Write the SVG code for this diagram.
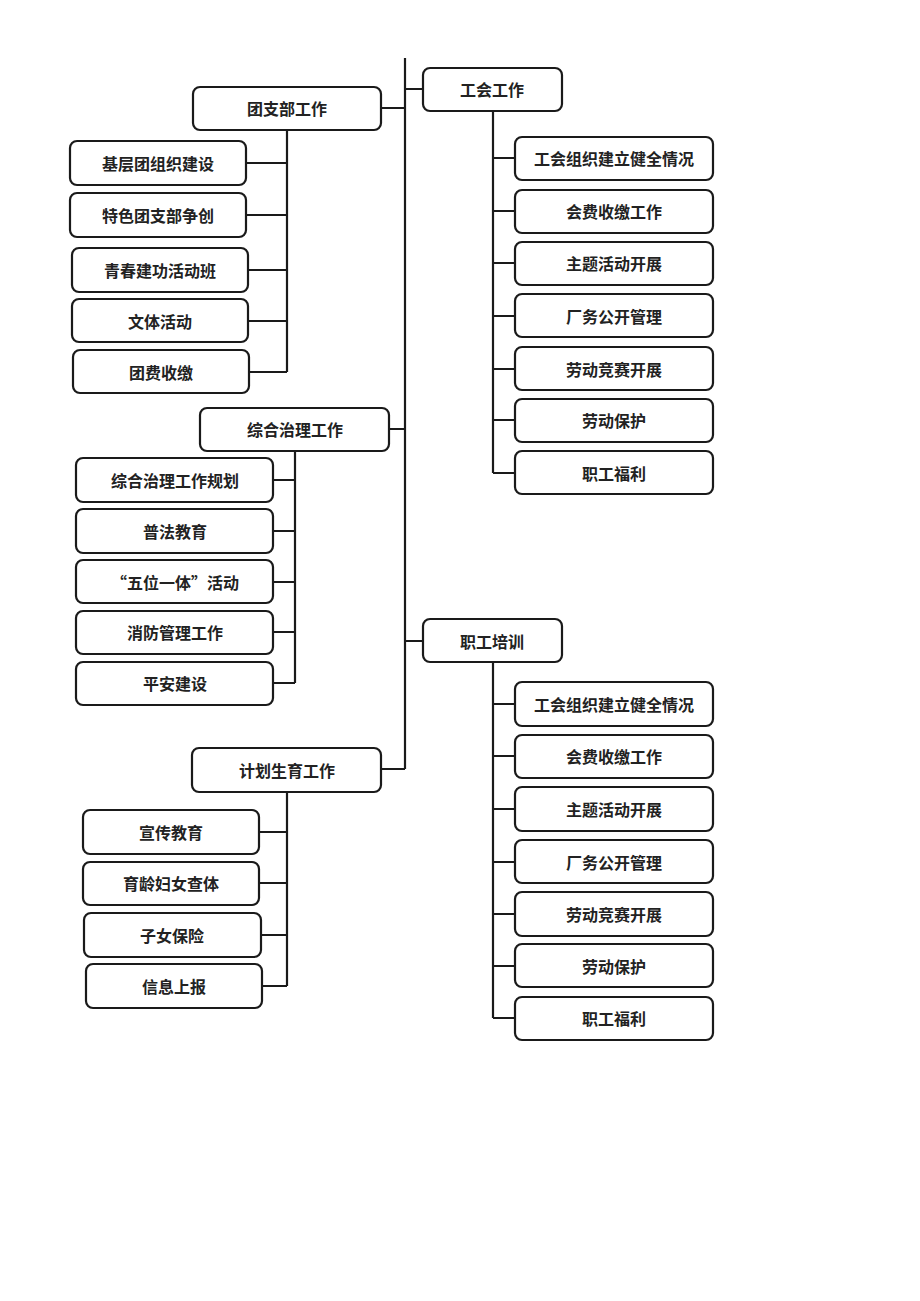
<svg xmlns="http://www.w3.org/2000/svg" width="920" height="1301" viewBox="0 0 920 1301">
<style>
.b{fill:#fff;stroke:#1a1a1a;stroke-width:2.2}
.t{font-family:"Noto Sans CJK SC","Noto Sans",sans-serif;font-size:16px;font-weight:bold;fill:#222;text-anchor:middle;dominant-baseline:central}
.c{fill:none;stroke:#1a1a1a;stroke-width:2.2}
</style>
<rect width="920" height="1301" fill="#fff"/>
<g id="connectors">
<path class="c" d="M405 58V769"/>
<path class="c" d="M405 89H423M381 108H405M389 429H405M405 641H423M381 769H405"/>
<path class="c" d="M287 130V372M246 163H287M246 215H287M248 270H287M248 321H287M249 372H287"/>
<path class="c" d="M493 111V473M493 158H515M493 211H515M493 263H515M493 316H515M493 369H515M493 420H515M493 473H515"/>
<path class="c" d="M295 451V683M273 480H295M273 531H295M273 582H295M273 632H295M273 683H295"/>
<path class="c" d="M493 662V1018M493 704H515M493 756H515M493 809H515M493 862H515M493 914H515M493 966H515M493 1018H515"/>
<path class="c" d="M287 792V986M259 832H287M259 883H287M261 935H287M262 986H287"/>
</g>
<g id="n-gonghui"><rect class="b" x="423" y="68" width="139" height="43" rx="7"/><text class="t" x="492" y="89">工会工作</text></g>
<g id="n-tuan"><rect class="b" x="193" y="87" width="188" height="43" rx="7"/><text class="t" x="287" y="108">团支部工作</text></g>
<g id="n-t1"><rect class="b" x="70" y="141" width="176" height="44" rx="7"/><text class="t" x="158" y="163">基层团组织建设</text></g>
<g id="n-t2"><rect class="b" x="70" y="193" width="176" height="44" rx="7"/><text class="t" x="158" y="215">特色团支部争创</text></g>
<g id="n-t3"><rect class="b" x="72" y="248" width="176" height="44" rx="7"/><text class="t" x="160" y="270">青春建功活动班</text></g>
<g id="n-t4"><rect class="b" x="72" y="299" width="176" height="43" rx="7"/><text class="t" x="160" y="321">文体活动</text></g>
<g id="n-t5"><rect class="b" x="73" y="350" width="176" height="43" rx="7"/><text class="t" x="161" y="372">团费收缴</text></g>
<g id="n-g1"><rect class="b" x="515" y="137" width="198" height="43" rx="7"/><text class="t" x="614" y="158">工会组织建立健全情况</text></g>
<g id="n-g2"><rect class="b" x="515" y="190" width="198" height="43" rx="7"/><text class="t" x="614" y="211">会费收缴工作</text></g>
<g id="n-g3"><rect class="b" x="515" y="242" width="198" height="43" rx="7"/><text class="t" x="614" y="263">主题活动开展</text></g>
<g id="n-g4"><rect class="b" x="515" y="294" width="198" height="43" rx="7"/><text class="t" x="614" y="316">厂务公开管理</text></g>
<g id="n-g5"><rect class="b" x="515" y="347" width="198" height="43" rx="7"/><text class="t" x="614" y="369">劳动竞赛开展</text></g>
<g id="n-g6"><rect class="b" x="515" y="399" width="198" height="43" rx="7"/><text class="t" x="614" y="420">劳动保护</text></g>
<g id="n-g7"><rect class="b" x="515" y="451" width="198" height="43" rx="7"/><text class="t" x="614" y="473">职工福利</text></g>
<g id="n-zonghe"><rect class="b" x="200" y="408" width="189" height="43" rx="7"/><text class="t" x="295" y="429">综合治理工作</text></g>
<g id="n-z1"><rect class="b" x="76" y="458" width="197" height="44" rx="7"/><text class="t" x="175" y="480">综合治理工作规划</text></g>
<g id="n-z2"><rect class="b" x="76" y="509" width="197" height="44" rx="7"/><text class="t" x="175" y="531">普法教育</text></g>
<g id="n-z3"><rect class="b" x="76" y="560" width="197" height="43" rx="7"/><text class="t" x="175" y="582">“五位一体”活动</text></g>
<g id="n-z4"><rect class="b" x="76" y="611" width="197" height="43" rx="7"/><text class="t" x="175" y="632">消防管理工作</text></g>
<g id="n-z5"><rect class="b" x="76" y="662" width="197" height="43" rx="7"/><text class="t" x="175" y="683">平安建设</text></g>
<g id="n-peixun"><rect class="b" x="423" y="619" width="139" height="43" rx="7"/><text class="t" x="492" y="641">职工培训</text></g>
<g id="n-p1"><rect class="b" x="515" y="682" width="198" height="44" rx="7"/><text class="t" x="614" y="704">工会组织建立健全情况</text></g>
<g id="n-p2"><rect class="b" x="515" y="735" width="198" height="43" rx="7"/><text class="t" x="614" y="756">会费收缴工作</text></g>
<g id="n-p3"><rect class="b" x="515" y="787" width="198" height="44" rx="7"/><text class="t" x="614" y="809">主题活动开展</text></g>
<g id="n-p4"><rect class="b" x="515" y="840" width="198" height="43" rx="7"/><text class="t" x="614" y="862">厂务公开管理</text></g>
<g id="n-p5"><rect class="b" x="515" y="892" width="198" height="44" rx="7"/><text class="t" x="614" y="914">劳动竞赛开展</text></g>
<g id="n-p6"><rect class="b" x="515" y="944" width="198" height="43" rx="7"/><text class="t" x="614" y="966">劳动保护</text></g>
<g id="n-p7"><rect class="b" x="515" y="997" width="198" height="43" rx="7"/><text class="t" x="614" y="1018">职工福利</text></g>
<g id="n-jihua"><rect class="b" x="192" y="748" width="189" height="44" rx="7"/><text class="t" x="287" y="770">计划生育工作</text></g>
<g id="n-j1"><rect class="b" x="83" y="810" width="176" height="44" rx="7"/><text class="t" x="171" y="832">宣传教育</text></g>
<g id="n-j2"><rect class="b" x="83" y="862" width="176" height="43" rx="7"/><text class="t" x="171" y="883">育龄妇女查体</text></g>
<g id="n-j3"><rect class="b" x="84" y="913" width="177" height="44" rx="7"/><text class="t" x="172" y="935">子女保险</text></g>
<g id="n-j4"><rect class="b" x="86" y="964" width="176" height="44" rx="7"/><text class="t" x="174" y="986">信息上报</text></g>
</svg>
